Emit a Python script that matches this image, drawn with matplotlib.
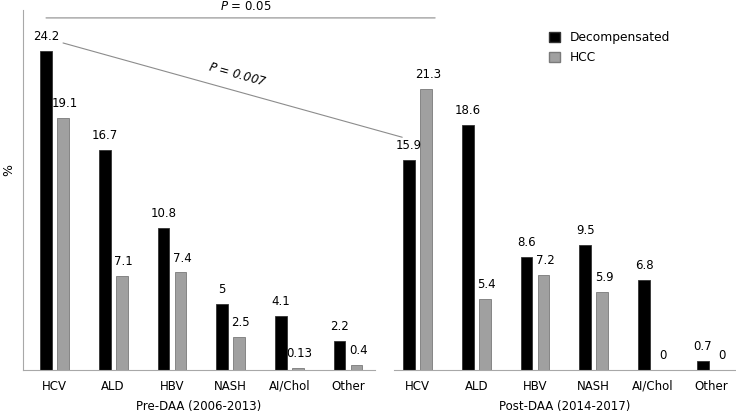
import matplotlib
matplotlib.use("Agg")
import matplotlib.pyplot as plt
from matplotlib.patches import ConnectionPatch, Patch
import numpy as np

categories = ["HCV", "ALD", "HBV", "NASH", "AI/Chol", "Other"]
groups = ["Pre-DAA (2006-2013)", "Post-DAA (2014-2017)"]
pre_decomp = [24.2, 16.7, 10.8, 5, 4.1, 2.2]
pre_hcc = [19.1, 7.1, 7.4, 2.5, 0.13, 0.4]
post_decomp = [15.9, 18.6, 8.6, 9.5, 6.8, 0.7]
post_hcc = [21.3, 5.4, 7.2, 5.9, 0, 0]
pre_labels_d = ["24.2", "16.7", "10.8", "5", "4.1", "2.2"]
pre_labels_h = ["19.1", "7.1", "7.4", "2.5", "0.13", "0.4"]
post_labels_d = ["15.9", "18.6", "8.6", "9.5", "6.8", "0.7"]
post_labels_h = ["21.3", "5.4", "7.2", "5.9", "0", "0"]

plt.rcParams['font.family'] = ['DejaVu Sans']
fig = plt.figure(figsize=(7.36, 4.19), dpi=100)
ax1 = fig.add_axes([23/736, 49/419, (375-23)/736, 360/419])
ax2 = fig.add_axes([394/736, 49/419, (736-394)/736, 360/419])

BLACK = "#000000"
GRAY = "#a0a0a0"
AXC = "#a8a8a8"
w = 0.2
off = 0.145
ymax = 27.3

def draw(ax, dvals, hvals, dl, hl, xlim, glabel, yaxis):
    x = np.arange(len(categories))
    ax.bar(x - off, dvals, w, color=BLACK, edgecolor="#333333", linewidth=0.6)
    ax.bar(x + off, hvals, w, color=GRAY, edgecolor="#7a7a7a", linewidth=0.6)
    for xi, v, t in zip(x, dvals, dl):
        ax.text(xi - off, v + 0.6, t, ha="center", va="bottom", fontsize=8.5)
    for xi, v, t in zip(x, hvals, hl):
        ax.text(xi + off + 0.03, v + 0.6, t, ha="center", va="bottom", fontsize=8.5)
    ax.set_xlim(*xlim)
    ax.set_ylim(0, ymax)
    ax.set_xticks(x)
    ax.set_xticklabels(categories, fontsize=8.5)
    ax.tick_params(axis="x", length=0, pad=7)
    ax.set_yticks([])
    for s in ["top", "right"]:
        ax.spines[s].set_visible(False)
    ax.spines["bottom"].set_color(AXC)
    ax.spines["left"].set_color(AXC)
    ax.spines["left"].set_visible(yaxis)
    ax.set_xlabel(glabel, fontsize=8.5, labelpad=5)
    ax.patch.set_alpha(0)

draw(ax1, pre_decomp, pre_hcc, pre_labels_d, pre_labels_h, (-0.537, 5.46), groups[0], True)
draw(ax2, post_decomp, post_hcc, post_labels_d, post_labels_h, (-0.40, 5.42), groups[1], False)
ax1.set_ylabel("%", fontsize=9)
ax1.yaxis.set_label_coords(-0.022, 0.556)

# significance lines
con1 = ConnectionPatch(xyA=(-off, 26.7), coordsA=ax1.transData,
                       xyB=(0.30, 26.7), coordsB=ax2.transData,
                       color="#8c8c8c", linewidth=0.8)
fig.add_artist(con1)
con2 = ConnectionPatch(xyA=(off, 24.8), coordsA=ax1.transData,
                       xyB=(-0.26, 17.65), coordsB=ax2.transData,
                       color="#8c8c8c", linewidth=0.8)
fig.add_artist(con2)
fig.text(246/736, 1 - 7/419, "$P$ = 0.05", ha="center", va="center", fontsize=8.5)
fig.text(237/736, 1 - 75/419, "$P$ = 0.007", ha="center", va="center", fontsize=8.5,
         rotation=-15.5, style="italic")

handles = [Patch(facecolor=BLACK, edgecolor="#333333"), Patch(facecolor=GRAY, edgecolor="#7a7a7a")]
fig.legend(handles, ["Decompensated", "HCC"], loc="upper left",
           bbox_to_anchor=(538/736, 1 - 20/419), frameon=False, fontsize=8.8,
           handlelength=0.9, handleheight=0.9, handletextpad=0.8, labelspacing=0.6)

fig.savefig("out.png", dpi=100)
